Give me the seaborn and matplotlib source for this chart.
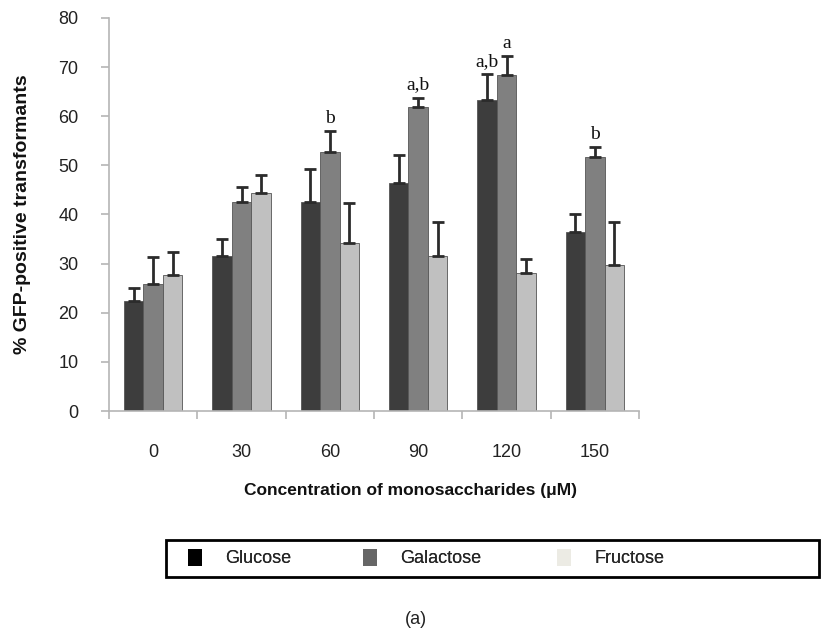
import numpy as np
import pandas as pd
import matplotlib
matplotlib.use("Agg")
import matplotlib.pyplot as plt
from matplotlib.patches import Rectangle, Patch
import seaborn as sns

concentrations = ["0", "30", "60", "90", "120", "150"]
sugars = ["Glucose", "Galactose", "Fructose"]
glucose = [22.4, 31.5, 42.6, 46.5, 63.4, 36.5]
galactose = [25.8, 42.6, 52.8, 61.8, 68.4, 51.8]
fructose = [27.7, 44.3, 34.3, 31.5, 28.0, 29.7]
glucose_err = [2.7, 3.6, 6.6, 5.6, 5.2, 3.7]
galactose_err = [5.5, 2.9, 4.1, 2.0, 3.9, 2.0]
fructose_err = [4.7, 3.8, 8.0, 6.9, 2.9, 8.8]
# significance letters: (sugar, concentration, text)
letters = [("Galactose", "60", "b"), ("Galactose", "90", "a,b"),
           ("Glucose", "120", "a,b"), ("Galactose", "120", "a"),
           ("Galactose", "150", "b")]
yticks = [0, 10, 20, 30, 40, 50, 60, 70, 80]

values = {"Glucose": glucose, "Galactose": galactose, "Fructose": fructose}
errors = {"Glucose": glucose_err, "Galactose": galactose_err, "Fructose": fructose_err}
df = pd.DataFrame([(c, s, values[s][i], errors[s][i])
                   for s in sugars for i, c in enumerate(concentrations)],
                  columns=["conc", "sugar", "value", "err"])

sns.set_style("white")
plt.rcParams["font.family"] = ["Liberation Sans", "DejaVu Sans"]

bar_colors = {"Glucose": "#3d3d3d", "Galactose": "#808080", "Fructose": "#c0c0c0"}
legend_colors = {"Glucose": "#000000", "Galactose": "#666666", "Fructose": "#ecebe4"}

fig = plt.figure(figsize=(8.33, 6.31), dpi=100)
ax = fig.add_axes([109 / 833, 1 - 411 / 631, 530 / 833, 393 / 631])

sns.barplot(data=df, x="conc", y="value", hue="sugar", order=concentrations,
            hue_order=sugars, palette=bar_colors, errorbar=None, width=0.66,
            gap=0, edgecolor="#555555", linewidth=0.6, saturation=1,
            legend=False, ax=ax)

# error bars (upper only) using bar positions from the seaborn containers
tops = {}
for s, cont in zip(sugars, ax.containers):
    xs = [p.get_x() + p.get_width() / 2 for p in cont]
    ys = values[s]
    es = errors[s]
    ax.errorbar(xs, ys, yerr=[np.zeros(len(es)), es], fmt="none",
                ecolor="#2b2b2b", elinewidth=2, capsize=4.5, capthick=2, zorder=3)
    for c, x, y, e in zip(concentrations, xs, ys, es):
        tops[(s, c)] = (x, y + e)

for s, c, t in letters:
    x, y = tops[(s, c)]
    ax.annotate(t, (x, y), xytext=(0, 3), textcoords="offset points",
                ha="center", va="bottom", fontsize=14,
                family=["Liberation Serif", "DejaVu Serif"], color="#111111")

ax.set_ylim(0, 80)
ax.set_xlim(-0.5, 5.5)
ax.set_yticks(yticks)
ax.set_yticklabels([str(v) for v in yticks], fontsize=13, color="#222222")
ax.set_xticks(np.arange(-0.5, 6.0, 1.0))
ax.set_xticklabels([])
ax.set_xticks(np.arange(len(concentrations)), minor=True)
ax.set_xticklabels(concentrations, minor=True, fontsize=13, color="#222222")
ax.tick_params(axis="x", which="major", direction="out", length=6, width=1.2,
               color="#b5b5b5", bottom=True)
ax.tick_params(axis="x", which="minor", length=0, pad=24)
ax.tick_params(axis="y", direction="out", length=6, width=1.2, color="#b5b5b5",
               left=True, pad=16)

for side in ["top", "right"]:
    ax.spines[side].set_visible(False)
for side in ["left", "bottom"]:
    ax.spines[side].set_color("#b5b5b5")
    ax.spines[side].set_linewidth(1.2)

ax.set_xlabel("Concentration of monosaccharides (μM)", fontsize=12.5,
              fontweight="bold", color="#111111")
ax.xaxis.set_label_coords((410 - 109) / 530, -0.182)
ax.set_ylabel("% GFP-positive transformants", fontsize=14, fontweight="bold",
              color="#111111")
ax.yaxis.set_label_coords(-0.148, 0.5)

# legend box
fig.patches.append(Rectangle((166 / 833, 1 - 577 / 631), 653 / 833, 37 / 631,
                             transform=fig.transFigure, fill=False,
                             edgecolor="black", linewidth=2))
leg_x = [188, 363, 557]
for s, lx in zip(sugars, leg_x):
    lg = fig.legend(handles=[Patch(facecolor=legend_colors[s], edgecolor="none")],
                    labels=[s], loc="center left",
                    bbox_to_anchor=(lx / 833, 1 - 558 / 631), frameon=False,
                    borderpad=0, borderaxespad=0, handlelength=0.75,
                    handleheight=1.1, handletextpad=1.3,
                    prop={"size": 13})
    fig.add_artist(lg)

fig.text(416 / 833, 1 - 619 / 631, "(a)", ha="center", va="center",
         fontsize=13, color="#222222")

fig.savefig("out.png", dpi=100, facecolor="white")
